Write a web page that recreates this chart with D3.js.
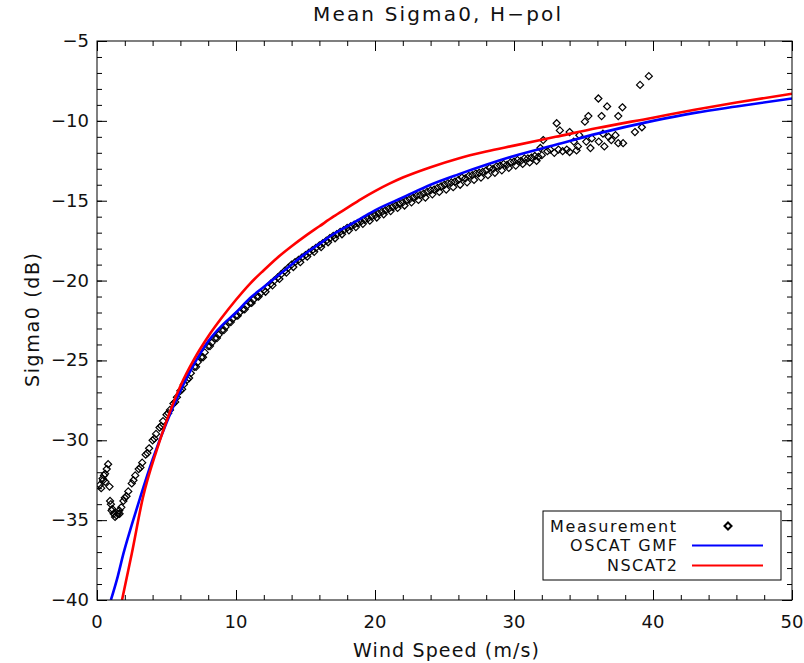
<!DOCTYPE html>
<html>
<head>
<meta charset="utf-8">
<script src="https://cdn.jsdelivr.net/npm/d3@7"></script>
<style>
  body { margin: 0; background: #fff; }
  text { font-family: "DejaVu Sans", sans-serif; fill: #111; }
</style>
</head>
<body>
<svg id="chart" width="804" height="663"></svg>
<script>
// wind speed (m/s) / sigma0 (dB)
var gmfWind  = [1.0, 1.5, 1.9, 2.5, 3.1, 4, 5, 6, 7, 8, 9, 10, 11, 12, 13, 14, 15, 16, 17, 18, 19, 20, 22, 24, 26, 28, 30, 33, 36, 40, 43, 46, 50];
var gmfSigma = [-40, -38.5, -37.1, -35.3, -33.6, -31.2, -28.9, -26.9, -25.2, -23.8, -22.8, -22.0, -21.1, -20.4, -19.7, -19.0, -18.3, -17.7, -17.1, -16.6, -16.1, -15.6, -14.8, -14.0, -13.35, -12.75, -12.2, -11.5, -10.8, -10.0, -9.5, -9.1, -8.6];

var nscatWind  = [1.8, 2.5, 3.3, 4.3, 5, 6, 7, 8, 9, 10, 11, 12, 13, 14, 15, 16, 17, 18, 19, 20, 21, 22, 24, 26, 28, 30, 33, 36, 40, 43, 46, 50];
var nscatSigma = [-40, -37.1, -33.6, -30.6, -28.8, -26.6, -24.9, -23.5, -22.3, -21.2, -20.2, -19.35, -18.55, -17.85, -17.2, -16.6, -16.0, -15.45, -14.9, -14.4, -13.95, -13.55, -12.9, -12.35, -11.92, -11.55, -11.0, -10.45, -9.8, -9.3, -8.85, -8.3];

var measWind = [
  0.2, 0.3, 0.4, 0.45, 0.5, 0.58, 0.6, 0.7, 0.8, 0.9, 0.94, 1.0, 1.05, 1.1, 1.2, 1.3, 1.4, 1.5, 1.6, 1.75, 1.9,
  2.0, 2.25, 2.5, 2.75, 3.0, 3.25, 3.5, 3.75, 4.0, 4.25, 4.5, 4.75,
  5.0, 5.25, 5.5, 5.75, 6.0, 6.25, 6.5, 6.75, 7.0, 7.25, 7.5, 7.75, 8.0, 8.25, 8.5, 8.75, 9.0, 9.25, 9.5, 9.75,
  10.0, 10.25, 10.5, 10.75, 11.0, 11.25, 11.5, 11.75, 12.0, 12.25, 12.5, 12.75, 13.0, 13.25, 13.5, 13.75, 14.0, 14.25, 14.5, 14.75,
  15.0, 15.25, 15.5, 15.75, 16.0, 16.25, 16.5, 16.75, 17.0, 17.25, 17.5, 17.75, 18.0, 18.25, 18.5, 18.75, 19.0, 19.25, 19.5, 19.75,
  20.0, 20.25, 20.5, 20.75, 21.0, 21.25, 21.5, 21.75, 22.0, 22.25, 22.5, 22.75, 23.0, 23.25, 23.5, 23.75, 24.0, 24.25, 24.5, 24.75,
  25.0, 25.25, 25.5, 25.75, 26.0, 26.25, 26.5, 26.75, 27.0, 27.25, 27.5, 27.75, 28.0, 28.25, 28.5, 28.75, 29.0, 29.25, 29.5, 29.75,
  30.0, 30.25, 30.5, 30.75, 31.0, 31.25, 31.5, 31.75, 32.0,
  1.625, 2.125, 2.625, 3.125, 3.625, 4.125, 4.625, 5.125, 5.625, 6.125, 6.625, 7.125, 7.625, 8.125, 8.625, 9.125, 9.625,
  10.125, 10.625, 11.125, 11.625, 12.125, 12.625, 13.125, 13.625, 14.125, 14.625, 15.125, 15.625, 16.125, 16.625, 17.125, 17.625,
  18.125, 18.625, 19.125, 19.625, 20.125, 20.625, 21.125, 21.625, 22.125, 22.625, 23.125, 23.625, 24.125, 24.625, 25.125, 25.625,
  26.125, 26.625, 27.125, 27.625, 28.125, 28.625, 29.125, 29.625, 30.125, 30.625, 31.125, 31.625,
  32.4, 32.9, 33.5, 34.0, 34.5,
  31.9, 32.1, 32.6, 33.07, 33.2, 33.3, 33.8, 34.0, 34.3, 34.6, 34.7, 35.1, 35.2, 35.35, 35.5, 35.6, 36.07, 36.1, 36.3, 36.4,
  36.5, 36.7, 36.8, 37.0, 37.3, 37.5, 37.5, 37.8, 37.85, 38.7, 39.07, 39.2, 39.7
];
var measSigma = [
  -32.8, -33.0, -32.4, -32.5, -32.2, -32.1, -32.6, -31.8, -31.5, -32.9, -33.8, -34.0, -34.4, -34.3, -34.6, -34.8, -34.7, -34.6, -34.4, -34.2, -33.8,
  -33.6, -33.2, -32.7, -32.2, -31.8, -31.4, -30.9, -30.5, -30.0, -29.6, -29.2, -28.8,
  -28.4, -28.1, -27.7, -27.3, -26.9, -26.5, -26.2, -25.8, -25.4, -25.1, -24.8, -24.5, -24.1, -23.9, -23.6, -23.4, -23.1, -22.9, -22.6, -22.4,
  -22.2, -22.0, -21.8, -21.6, -21.4, -21.2, -21.0, -20.8, -20.6, -20.4, -20.2, -20.0, -19.8, -19.6, -19.4, -19.2, -19.0, -18.85, -18.7, -18.55,
  -18.4, -18.25, -18.1, -17.95, -17.8, -17.65, -17.5, -17.35, -17.2, -17.1, -16.95, -16.85, -16.7, -16.6, -16.5, -16.4, -16.3, -16.2, -16.1, -16.0,
  -15.9, -15.8, -15.7, -15.6, -15.5, -15.4, -15.3, -15.2, -15.1, -15.0, -14.9, -14.8, -14.7, -14.65, -14.55, -14.45, -14.35, -14.3, -14.2, -14.1,
  -14.0, -13.9, -13.85, -13.8, -13.7, -13.55, -13.6, -13.45, -13.4, -13.3, -13.25, -13.2, -13.1, -12.95, -13.0, -12.85, -12.8, -12.7, -12.75, -12.6,
  -12.55, -12.45, -12.5, -12.35, -12.35, -12.3, -12.2, -12.25, -12.15,
  -34.6, -33.5, -32.5, -31.7, -30.8, -29.9, -29.1, -28.3, -27.6, -26.8, -26.1, -25.4, -24.8, -24.1, -23.6, -23.1, -22.6,
  -22.2, -21.8, -21.4, -21.0, -20.7, -20.3, -19.9, -19.5, -19.15, -18.85, -18.5, -18.2, -17.9, -17.6, -17.35, -17.1,
  -16.85, -16.65, -16.45, -16.25, -16.05, -15.85, -15.65, -15.45, -15.3, -15.1, -14.95, -14.8, -14.6, -14.45, -14.3, -14.15,
  -14.0, -13.85, -13.7, -13.55, -13.4, -13.25, -13.1, -12.95, -12.8, -12.7, -12.6, -12.5,
  -11.9, -12.0, -11.9, -11.95, -11.85,
  -11.7, -11.2, -11.8, -10.15, -11.8, -10.6, -11.8, -10.7, -11.3, -11.6, -10.9, -10.05, -11.3, -9.7, -11.7, -11.1, -8.6, -11.3, -9.7, -10.8,
  -11.6, -9.1, -11.0, -11.2, -10.9, -9.7, -11.4, -9.15, -11.4, -10.7, -7.75, -10.4, -7.2
];

var xTicks = [0, 10, 20, 30, 40, 50];
var yTicks = [-5, -10, -15, -20, -25, -30, -35, -40];

var svg = d3.select("#chart");

// plot frame in pixels
var plotLeft = 97, plotRight = 792, plotTop = 41, plotBottom = 600;

var x = d3.scaleLinear().domain([0, 50]).range([plotLeft, plotRight]);
var y = d3.scaleLinear().domain([-40, -5]).range([plotBottom, plotTop]);

svg.append("defs").append("clipPath").attr("id", "plotclip")
  .append("rect")
    .attr("x", plotLeft).attr("y", plotTop)
    .attr("width", plotRight - plotLeft).attr("height", plotBottom - plotTop);

var plot = svg.append("g").attr("clip-path", "url(#plotclip)");

// measurements: hollow diamonds
var diamond = d3.symbol().type(d3.symbolDiamond2).size(32);
plot.selectAll("path.meas")
  .data(measWind.map(function(w, i){ return [w, measSigma[i]]; }))
  .enter()
  .append("path")
    .attr("class", "meas")
    .attr("d", diamond)
    .attr("transform", function(d){ return "translate(" + x(d[0]) + "," + y(d[1]) + ")"; })
    .attr("fill", "none")
    .attr("stroke", "#000")
    .attr("stroke-width", 1.2);

var line = d3.line()
  .x(function(d){ return x(d[0]); })
  .y(function(d){ return y(d[1]); })
  .curve(d3.curveMonotoneX);

plot.append("path")
  .datum(gmfWind.map(function(w, i){ return [w, gmfSigma[i]]; }))
  .attr("d", line)
  .attr("fill", "none")
  .attr("stroke", "#0000ff")
  .attr("stroke-width", 2.6);

plot.append("path")
  .datum(nscatWind.map(function(w, i){ return [w, nscatSigma[i]]; }))
  .attr("d", line)
  .attr("fill", "none")
  .attr("stroke", "#ff0000")
  .attr("stroke-width", 2.6);

// axes, ticks pointing inward on all four sides
function ticks(axis, values, size, tx, ty){
  svg.append("g")
    .attr("transform", "translate(" + tx + "," + ty + ")")
    .call(axis.tickValues(values).tickSize(size).tickFormat(""));
}
var xMinor = d3.range(0, 51, 2), yMinor = d3.range(-40, -4, 1);
ticks(d3.axisTop(x), xMinor, 5, 0, plotBottom);
ticks(d3.axisTop(x), xTicks, 10, 0, plotBottom);
ticks(d3.axisBottom(x), xMinor, 5, 0, plotTop);
ticks(d3.axisBottom(x), xTicks, 10, 0, plotTop);
ticks(d3.axisRight(y), yMinor, 5, plotLeft, 0);
ticks(d3.axisRight(y), yTicks, 10, plotLeft, 0);
ticks(d3.axisLeft(y), yMinor, 5, plotRight, 0);
ticks(d3.axisLeft(y), yTicks, 10, plotRight, 0);
svg.selectAll(".domain").remove();
svg.selectAll(".tick line").attr("stroke", "#000");

svg.append("rect")
  .attr("x", plotLeft).attr("y", plotTop)
  .attr("width", plotRight - plotLeft).attr("height", plotBottom - plotTop)
  .attr("fill", "none").attr("stroke", "#000").attr("stroke-width", 1);

// tick labels
svg.selectAll("text.xlab")
  .data(xTicks).enter()
  .append("text")
    .attr("class", "xlab")
    .attr("x", function(d){ return x(d); })
    .attr("y", 628)
    .attr("text-anchor", "middle")
    .attr("font-size", 18)
    .text(function(d){ return d; });
svg.selectAll("text.ylab")
  .data(yTicks).enter()
  .append("text")
    .attr("class", "ylab")
    .attr("x", 89)
    .attr("y", function(d){ return y(d) + 6; })
    .attr("text-anchor", "end")
    .attr("font-size", 18)
    .text(function(d){ return "\u2212" + Math.abs(d); });

// titles
svg.append("text")
  .attr("x", 437).attr("y", 21)
  .attr("text-anchor", "middle")
  .attr("font-size", 20)
  .attr("textLength", 248)
  .text("Mean Sigma0, H\u2212pol");
svg.append("text")
  .attr("x", 446).attr("y", 657)
  .attr("text-anchor", "middle")
  .attr("font-size", 19)
  .attr("textLength", 186)
  .text("Wind Speed (m/s)");
svg.append("text")
  .attr("transform", "translate(39,320) rotate(-90)")
  .attr("text-anchor", "middle")
  .attr("font-size", 19)
  .attr("textLength", 134)
  .text("Sigma0 (dB)");

// legend
var legend = svg.append("g");
legend.append("rect")
  .attr("x", 543).attr("y", 511)
  .attr("width", 238).attr("height", 69)
  .attr("fill", "#fff").attr("stroke", "#000").attr("stroke-width", 1);
legend.append("text")
  .attr("x", 550).attr("y", 532)
  .attr("font-size", 16).attr("textLength", 126)
  .text("Measurement");
legend.append("path")
  .attr("d", diamond)
  .attr("transform", "translate(728,526)")
  .attr("fill", "none").attr("stroke", "#000").attr("stroke-width", 2);
legend.append("text")
  .attr("x", 677).attr("y", 551)
  .attr("text-anchor", "end")
  .attr("font-size", 16).attr("textLength", 107)
  .text("OSCAT GMF");
legend.append("line")
  .attr("x1", 692).attr("x2", 763).attr("y1", 545.5).attr("y2", 545.5)
  .attr("stroke", "#0000ff").attr("stroke-width", 2);
legend.append("text")
  .attr("x", 677).attr("y", 571)
  .attr("text-anchor", "end")
  .attr("font-size", 16).attr("textLength", 70)
  .text("NSCAT2");
legend.append("line")
  .attr("x1", 692).attr("x2", 763).attr("y1", 565.5).attr("y2", 565.5)
  .attr("stroke", "#ff0000").attr("stroke-width", 2);
</script>
</body>
</html>
